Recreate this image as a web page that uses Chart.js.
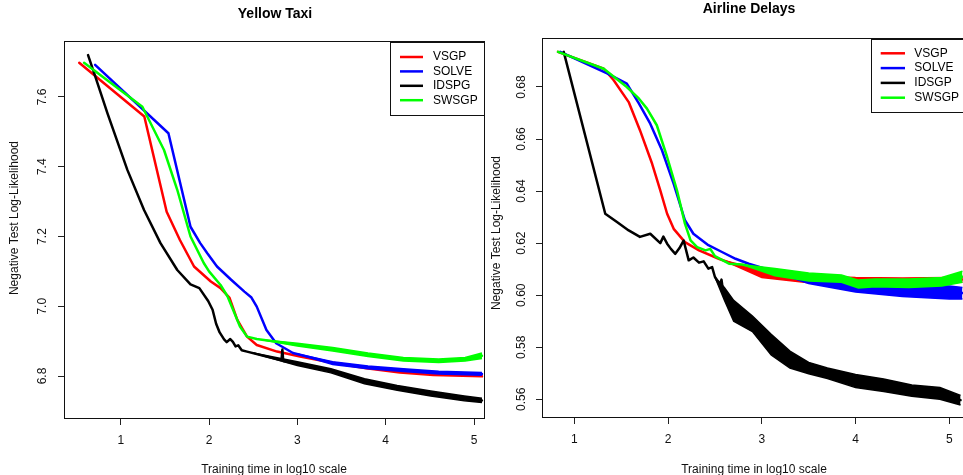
<!DOCTYPE html>
<html><head><meta charset="utf-8">
<script src="https://cdn.jsdelivr.net/npm/chart.js@4.4.0/dist/chart.umd.min.js"></script>
<style>
html,body{margin:0;padding:0;background:#fff;overflow:hidden;width:963px;height:475px;}
canvas{position:absolute;top:0;}
#c1{left:0}
#c2{left:490px}
</style></head><body>
<canvas id="c1" width="490" height="475"></canvas>
<canvas id="c2" width="490" height="475"></canvas>
<script>
const FONT = '"Liberation Sans", Arial, Helvetica, sans-serif';

// ---------- Yellow Taxi ----------
const taxiXTicks = [1, 2, 3, 4, 5];
const taxiYTicks = [6.8, 7.0, 7.2, 7.4, 7.6];
const taxiYTickLabels = ['6.8', '7.0', '7.2', '7.4', '7.6'];
const taxiLabels = ['VSGP', 'SOLVE', 'IDSPG', 'SWSGP'];

const taxiVsgpX = [0.53, 1.267, 1.52, 1.67, 1.83, 2.02, 2.13, 2.23, 2.32, 2.43, 2.54, 2.77, 3.03, 3.4, 3.78, 4.16, 4.54, 5.09];
const taxiVsgpY = [7.698, 7.544, 7.271, 7.19, 7.114, 7.071, 7.052, 7.025, 6.961, 6.913, 6.889, 6.870, 6.856, 6.838, 6.822, 6.810, 6.803, 6.799];

const taxiSolveX = [0.71, 1.54, 1.79, 1.9, 1.98, 2.09, 2.25, 2.40, 2.48, 2.54, 2.65, 2.76, 2.95, 3.41, 3.79, 4.16, 4.54, 5.09];
const taxiSolveY = [7.692, 7.496, 7.228, 7.181, 7.152, 7.114, 7.076, 7.042, 7.025, 6.999, 6.932, 6.894, 6.866, 6.837, 6.825, 6.818, 6.810, 6.806];
const taxiSolveBandX = [3.0, 3.4, 3.8, 4.2, 4.6, 5.09];
const taxiSolveBandLo = [6.863, 6.833, 6.821, 6.813, 6.806, 6.802];
const taxiSolveBandHi = [6.863, 6.841, 6.829, 6.821, 6.814, 6.810];

const taxiIdsX = [0.63, 0.70, 0.85, 1.075, 1.264, 1.45, 1.64, 1.79, 1.89, 1.99, 2.04, 2.08, 2.12, 2.17, 2.2, 2.24, 2.27, 2.30, 2.33, 2.37, 2.43, 2.65, 2.82, 2.83, 2.84, 3.0, 3.38, 3.57, 3.76, 3.94, 4.13, 4.51, 4.89, 5.09];
const taxiIdsY = [7.72, 7.668, 7.553, 7.391, 7.276, 7.181, 7.104, 7.063, 7.052, 7.015, 6.99, 6.95, 6.925, 6.905, 6.897, 6.906, 6.898, 6.885, 6.888, 6.874, 6.870, 6.856, 6.845, 6.876, 6.843, 6.835, 6.815, 6.799, 6.785, 6.775, 6.766, 6.750, 6.736, 6.730];
const taxiIdsBandX = [2.5, 3.0, 3.38, 3.76, 4.13, 4.51, 4.89, 5.09];
const taxiIdsBandLo = [6.866, 6.830, 6.809, 6.778, 6.759, 6.743, 6.729, 6.724];
const taxiIdsBandHi = [6.866, 6.841, 6.821, 6.792, 6.773, 6.757, 6.743, 6.736];

const taxiSwsX = [0.585, 1.245, 1.49, 1.64, 1.79, 1.94, 2.0, 2.13, 2.21, 2.35, 2.43, 2.54, 3.03, 3.41, 3.79, 4.16, 4.54, 4.92, 5.09];
const taxiSwsY = [7.698, 7.572, 7.448, 7.334, 7.2, 7.124, 7.1, 7.061, 7.028, 6.942, 6.913, 6.906, 6.889, 6.877, 6.861, 6.848, 6.844, 6.848, 6.858];
const taxiSwsBandX = [2.6, 3.0, 3.4, 3.8, 4.2, 4.6, 4.9, 5.09];
const taxiSwsBandLo = [6.904, 6.886, 6.872, 6.856, 6.843, 6.839, 6.843, 6.850];
const taxiSwsBandHi = [6.904, 6.894, 6.882, 6.866, 6.853, 6.849, 6.853, 6.866];

// ---------- Airline Delays ----------
const airXTicks = [1, 2, 3, 4, 5];
const airYTicks = [0.56, 0.58, 0.60, 0.62, 0.64, 0.66, 0.68];
const airYTickLabels = ['0.56', '0.58', '0.60', '0.62', '0.64', '0.66', '0.68'];
const airLabels = ['VSGP', 'SOLVE', 'IDSGP', 'SWSGP'];

const airVsgpX = [0.826, 1.314, 1.42, 1.58, 1.70, 1.83, 1.917, 1.99, 2.06, 2.18, 2.33, 2.54, 2.79, 3.0, 3.30, 3.66, 4.01, 4.37, 4.72, 5.08, 5.14];
const airVsgpY = [0.6935, 0.6870, 0.6826, 0.6742, 0.6634, 0.6505, 0.6403, 0.6313, 0.6255, 0.6204, 0.6172, 0.6140, 0.6108, 0.6082, 0.6060, 0.6062, 0.6058, 0.6058, 0.6059, 0.6058, 0.6060];
const airVsgpBandX = [2.6, 3.0, 3.5, 4.0, 4.5, 5.0, 5.14];
const airVsgpBandLo = [0.6132, 0.6068, 0.6048, 0.6050, 0.6050, 0.6050, 0.6050];
const airVsgpBandHi = [0.6132, 0.6098, 0.6075, 0.6068, 0.6066, 0.6068, 0.6068];

const airSolveX = [0.85, 1.35, 1.56, 1.69, 1.81, 1.935, 2.06, 2.18, 2.27, 2.43, 2.575, 2.72, 2.86, 3.14, 3.5, 3.855, 4.21, 4.57, 5.14];
const airSolveY = [0.6935, 0.6852, 0.6813, 0.6736, 0.6659, 0.6557, 0.6428, 0.6288, 0.6236, 0.6192, 0.6166, 0.6140, 0.6121, 0.6090, 0.6060, 0.6040, 0.6026, 0.6016, 0.6008];
const airSolveBandX = [3.0, 3.5, 4.0, 4.5, 5.0, 5.14];
const airSolveBandLo = [0.6105, 0.6045, 0.6012, 0.5995, 0.5985, 0.5985];
const airSolveBandHi = [0.6105, 0.6075, 0.6050, 0.6040, 0.6035, 0.6030];

const airIdsX = [0.887, 1.33, 1.455, 1.58, 1.70, 1.81, 1.917, 1.95, 1.99, 2.03, 2.077, 2.12, 2.166, 2.22, 2.27, 2.33, 2.38, 2.43, 2.47, 2.50, 2.55, 2.57, 2.59, 2.72, 2.86, 3.0, 3.14, 3.32, 3.5, 3.7, 4.0, 4.3, 4.6, 4.9, 5.12];
const airIdsY = [0.6935, 0.6313, 0.6281, 0.6249, 0.6224, 0.6236, 0.6200, 0.6225, 0.6198, 0.6178, 0.6159, 0.6180, 0.6210, 0.6134, 0.6145, 0.6125, 0.6130, 0.6102, 0.6108, 0.6070, 0.6040, 0.6060, 0.6006, 0.5935, 0.5900, 0.5845, 0.5800, 0.5750, 0.5720, 0.5700, 0.5670, 0.5654, 0.5634, 0.5623, 0.5597];
const airIdsBandX = [2.5, 2.6, 2.7, 2.9, 3.1, 3.3, 3.5, 3.7, 4.0, 4.3, 4.6, 4.9, 5.12];
const airIdsBandLo = [0.6070, 0.5982, 0.5900, 0.5860, 0.5770, 0.5720, 0.5698, 0.5680, 0.5645, 0.5630, 0.5612, 0.5600, 0.5578];
const airIdsBandHi = [0.6070, 0.6030, 0.5980, 0.5920, 0.5850, 0.5785, 0.5742, 0.5720, 0.5695, 0.5678, 0.5655, 0.5645, 0.5615];

const airSwsX = [0.826, 1.314, 1.56, 1.69, 1.775, 1.88, 1.99, 2.095, 2.18, 2.24, 2.31, 2.40, 2.45, 2.50, 2.65, 2.79, 2.97, 3.14, 3.5, 3.855, 4.03, 4.21, 4.57, 4.92, 5.14];
const airSwsY = [0.6935, 0.6870, 0.6800, 0.6755, 0.6717, 0.6653, 0.6531, 0.6403, 0.6275, 0.6211, 0.6185, 0.6172, 0.6178, 0.6150, 0.6121, 0.6118, 0.6102, 0.6089, 0.6070, 0.6063, 0.6043, 0.6047, 0.6046, 0.6051, 0.6071];
const airSwsBandX = [2.8, 3.14, 3.5, 3.85, 4.03, 4.21, 4.57, 4.92, 5.14];
const airSwsBandLo = [0.6117, 0.6075, 0.6055, 0.6050, 0.6028, 0.6032, 0.6030, 0.6035, 0.6050];
const airSwsBandHi = [0.6117, 0.6103, 0.6085, 0.6078, 0.6058, 0.6062, 0.6062, 0.6068, 0.6092];

const COLORS = ['#ff0000', '#0000ff', '#000000', '#00ff00'];
const ORDERS = [3, 2, 1, 0];

function pts(xs, ys) { return xs.map((x, i) => ({ x: x, y: ys[i] })); }

function decor(P) {
  return {
    id: 'decor',
    afterDraw(chart) {
      const ctx = chart.ctx, a = chart.chartArea;
      ctx.save();
      ctx.strokeStyle = '#111';
      ctx.lineWidth = 1;
      ctx.strokeRect(a.left - 0.5, a.top - 0.5, a.right - a.left + 1, a.bottom - a.top + 1);
      const ys = chart.scales.y;
      ctx.fillStyle = '#111';
      ctx.font = '12px ' + FONT;
      ctx.textAlign = 'center';
      ctx.textBaseline = 'middle';
      P.yTicks.forEach((v, i) => {
        const py = ys.getPixelForValue(v);
        ctx.save();
        ctx.translate(P.yTickX, py);
        ctx.rotate(-Math.PI / 2);
        ctx.fillText(P.yTickLabels[i], 0, 0);
        ctx.restore();
      });
      ctx.fillStyle = '#000';
      ctx.font = 'bold 14px ' + FONT;
      ctx.textBaseline = 'alphabetic';
      ctx.fillText(P.title, P.titleX, P.titleY);
      ctx.font = '12px ' + FONT;
      ctx.fillStyle = '#111';
      ctx.fillText('Training time in log10 scale', P.xLabelX, P.xLabelY);
      ctx.save();
      ctx.translate(P.yLabelX, P.yLabelY);
      ctx.rotate(-Math.PI / 2);
      ctx.fillText('Negative Test Log-Likelihood', 0, 0);
      ctx.restore();
      const g = P.legend;
      ctx.fillStyle = '#fff';
      ctx.fillRect(g.x, g.y, g.w, g.h);
      ctx.strokeStyle = '#111';
      ctx.strokeRect(g.x + 0.5, g.y + 0.5, g.w, g.h);
      ctx.textAlign = 'left';
      ctx.textBaseline = 'middle';
      P.labels.forEach((lab, i) => {
        const y = g.row0 + i * g.dy;
        ctx.strokeStyle = COLORS[i];
        ctx.lineWidth = 2.5;
        ctx.beginPath();
        ctx.moveTo(g.l1, y);
        ctx.lineTo(g.l2, y);
        ctx.stroke();
        ctx.fillStyle = '#000';
        ctx.fillText(lab, g.tx, y);
      });
      ctx.restore();
    }
  };
}

function buildChart(id, P) {
  const datasets = [];
  P.series.forEach((s, k) => {
    const col = COLORS[k], ord = ORDERS[k];
    datasets.push({ label: P.labels[k], data: pts(s.x, s.y), borderColor: col, borderWidth: 2.5, pointRadius: 0, fill: false, order: ord, borderJoinStyle: 'round', borderCapStyle: 'round' });
    if (s.bx) {
      datasets.push({ label: P.labels[k] + ' lo', data: pts(s.bx, s.blo), borderColor: col, borderWidth: 1.5, pointRadius: 0, fill: false, order: ord });
      datasets.push({ label: P.labels[k] + ' hi', data: pts(s.bx, s.bhi), borderColor: col, backgroundColor: col, borderWidth: 1.5, pointRadius: 0, fill: '-1', order: ord });
    }
  });
  const axisCommon = {
    type: 'linear',
    grid: { display: true, drawOnChartArea: false, drawTicks: true, tickLength: 7, color: '#222', lineWidth: 1 },
    border: { display: false }
  };
  return new Chart(document.getElementById(id), {
    type: 'line',
    data: { datasets: datasets },
    options: {
      responsive: false,
      animation: false,
      devicePixelRatio: 1,
      layout: { padding: { top: P.top, right: P.padRight, bottom: 0, left: 0 } },
      plugins: { legend: { display: false }, tooltip: { enabled: false }, title: { display: false } },
      scales: {
        x: Object.assign({}, axisCommon, {
          min: P.xMin, max: P.xMax,
          afterBuildTicks: sc => { sc.ticks = P.xTicks.map(v => ({ value: v })); },
          afterFit: sc => { sc.height = P.xAxisH; },
          ticks: { font: { family: FONT, size: 12 }, color: '#111', padding: 8, maxRotation: 0, autoSkip: false, callback: v => String(v) }
        }),
        y: Object.assign({}, axisCommon, {
          min: P.yMin, max: P.yMax,
          afterBuildTicks: sc => { sc.ticks = P.yTicks.map(v => ({ value: v })); },
          afterFit: sc => { sc.width = P.yAxisW; },
          ticks: { display: false }
        })
      }
    },
    plugins: [decor(P)]
  });
}

buildChart('c1', {
  title: 'Yellow Taxi', titleX: 275, titleY: 18,
  xLabelX: 274, xLabelY: 473, yLabelX: 17.5, yLabelY: 218, yTickX: 43,
  top: 42, padRight: 6, yAxisW: 65, xAxisH: 57,
  xMin: 0.369, xMax: 5.113, yMin: 6.6796, yMax: 7.7577,
  xTicks: taxiXTicks, yTicks: taxiYTicks, yTickLabels: taxiYTickLabels, labels: taxiLabels,
  legend: { x: 390, y: 42, w: 94, h: 73, l1: 400, l2: 423, tx: 433, row0: 57, dy: 14.4 },
  series: [
    { x: taxiVsgpX, y: taxiVsgpY },
    { x: taxiSolveX, y: taxiSolveY, bx: taxiSolveBandX, blo: taxiSolveBandLo, bhi: taxiSolveBandHi },
    { x: taxiIdsX, y: taxiIdsY, bx: taxiIdsBandX, blo: taxiIdsBandLo, bhi: taxiIdsBandHi },
    { x: taxiSwsX, y: taxiSwsY, bx: taxiSwsBandX, blo: taxiSwsBandLo, bhi: taxiSwsBandHi }
  ]
});

buildChart('c2', {
  title: 'Airline Delays', titleX: 259, titleY: 13,
  xLabelX: 264, xLabelY: 473, yLabelX: 9.5, yLabelY: 233, yTickX: 31.3,
  top: 39, padRight: 14, yAxisW: 53, xAxisH: 58,
  xMin: 0.666, xMax: 5.178, yMin: 0.5532, yMax: 0.69844,
  xTicks: airXTicks, yTicks: airYTicks, yTickLabels: airYTickLabels, labels: airLabels,
  legend: { x: 381, y: 39, w: 100, h: 73, l1: 390.7, l2: 415, tx: 424.3, row0: 53.3, dy: 14.8 },
  series: [
    { x: airVsgpX, y: airVsgpY, bx: airVsgpBandX, blo: airVsgpBandLo, bhi: airVsgpBandHi },
    { x: airSolveX, y: airSolveY, bx: airSolveBandX, blo: airSolveBandLo, bhi: airSolveBandHi },
    { x: airIdsX, y: airIdsY, bx: airIdsBandX, blo: airIdsBandLo, bhi: airIdsBandHi },
    { x: airSwsX, y: airSwsY, bx: airSwsBandX, blo: airSwsBandLo, bhi: airSwsBandHi }
  ]
});
</script>
</body></html>
